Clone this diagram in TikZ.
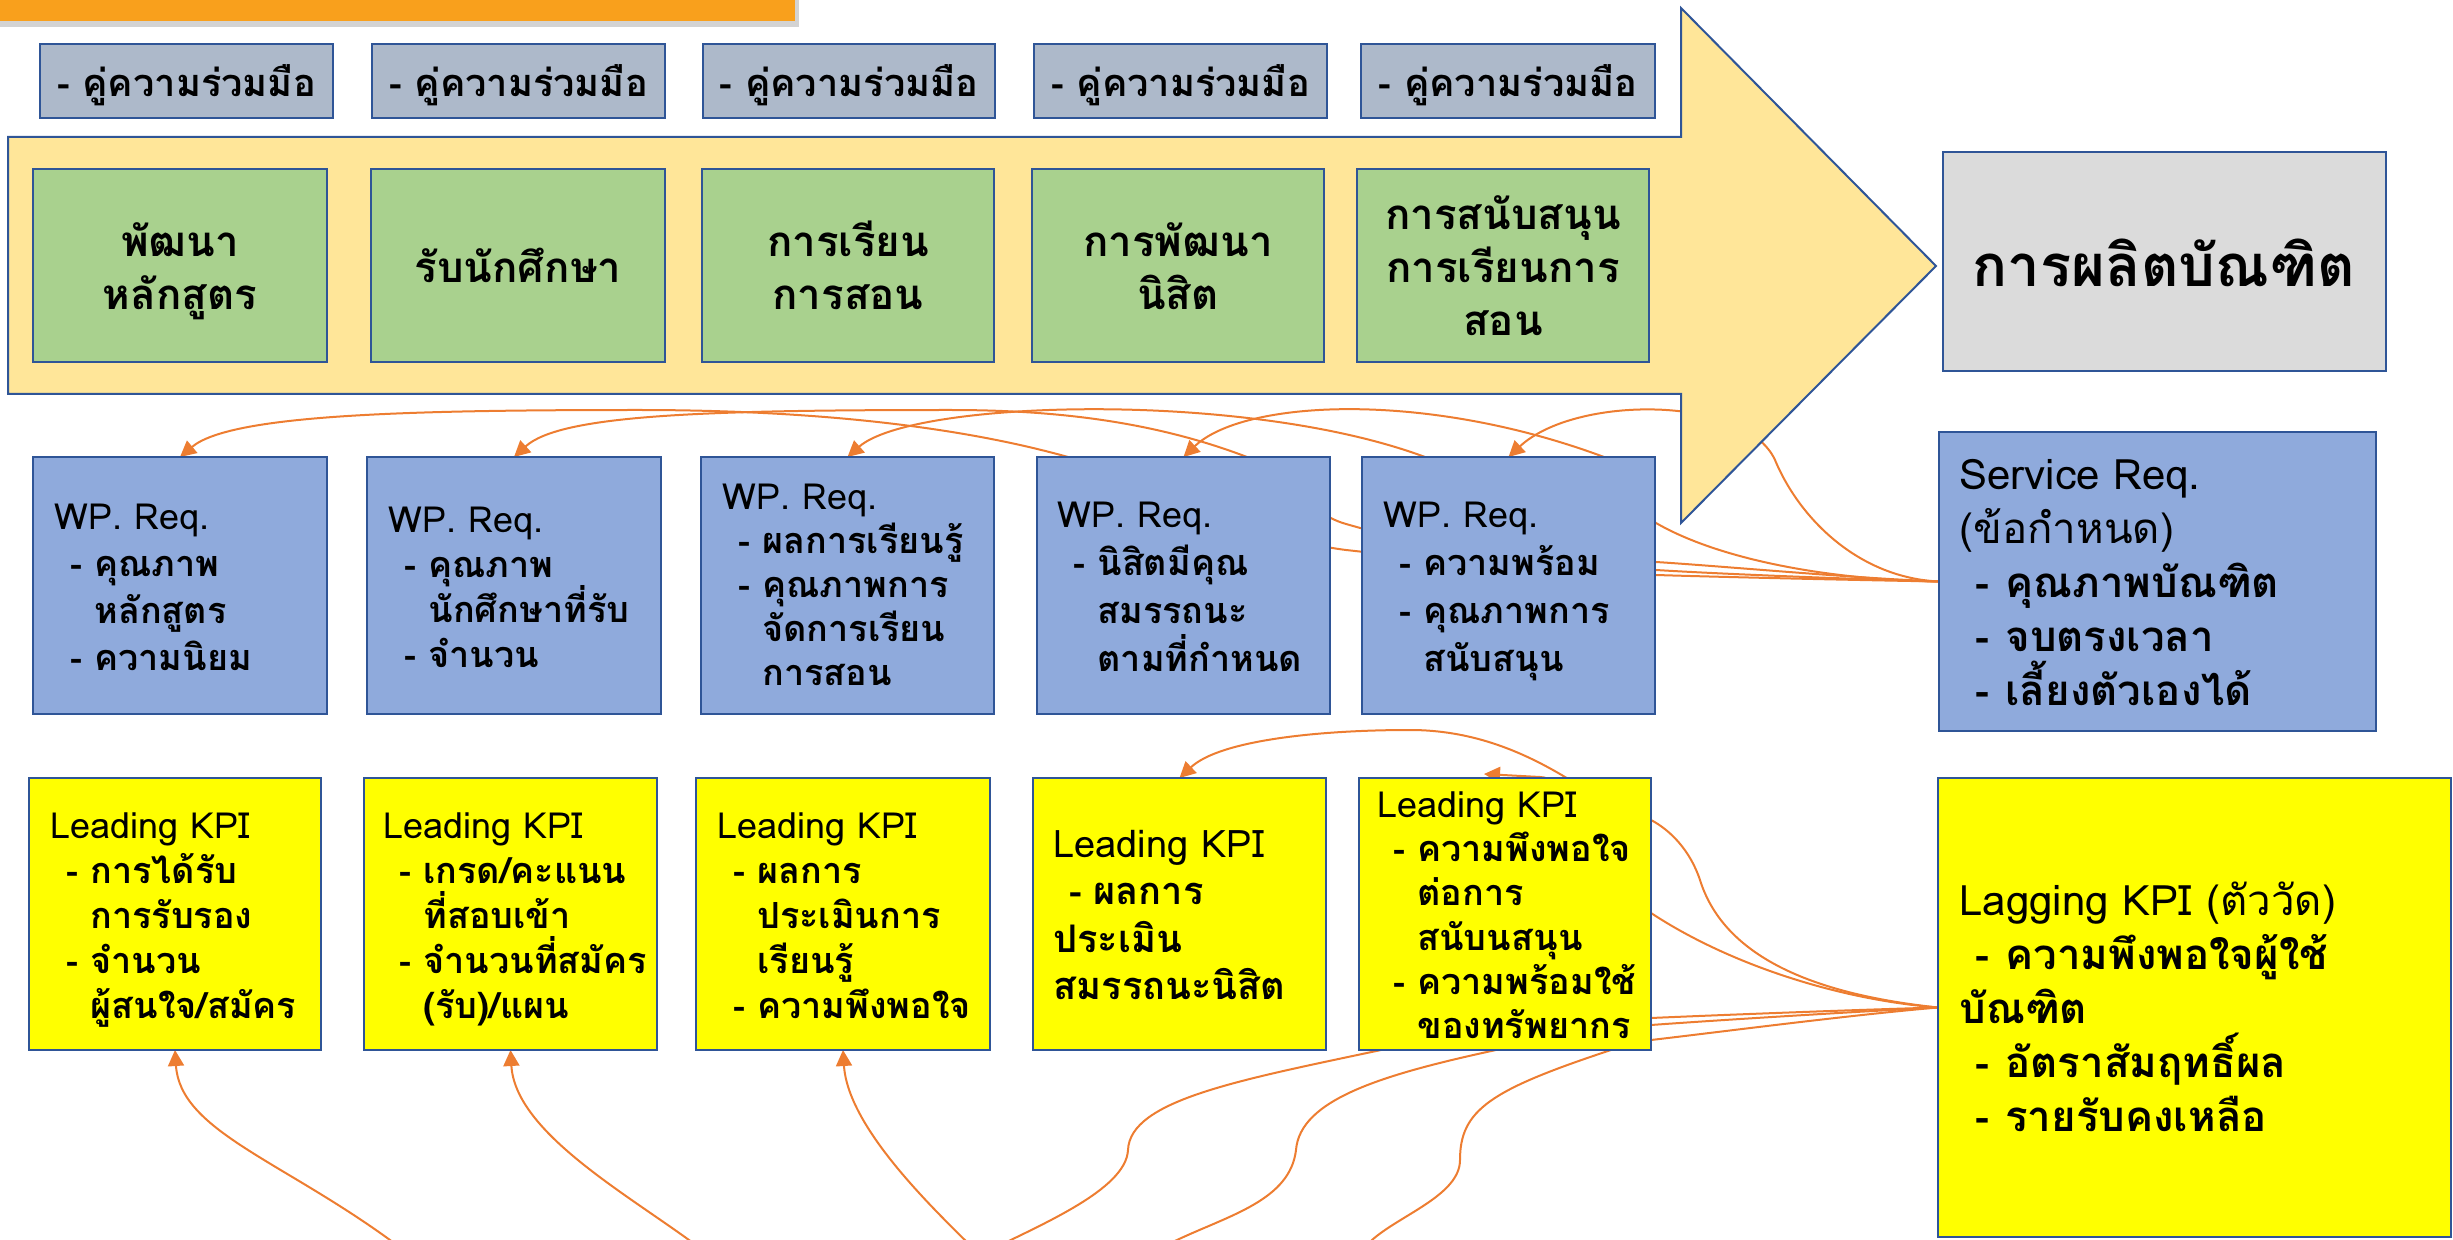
\documentclass[tikz,border=0pt]{standalone}
\usepackage{fontspec}
\newfontfamily\thai[Script=Thai]{Loma}
\usetikzlibrary{arrows.meta,backgrounds,shadows,fit,calc}
\definecolor{orangebar}{RGB}{249,160,28}
\definecolor{bordblue}{RGB}{47,85,151}
\definecolor{partnerfill}{RGB}{173,185,202}
\definecolor{arrowfill}{RGB}{255,230,153}
\definecolor{greenfill}{RGB}{169,209,142}
\definecolor{grayfill}{RGB}{219,219,219}
\definecolor{wpfill}{RGB}{143,170,220}
\definecolor{kpiyellow}{RGB}{255,255,0}
\definecolor{conncol}{RGB}{237,125,49}
\newcommand\tlines[2]{\vtop{\baselineskip=#1\lineskiplimit=-100pt\lineskip=0pt\halign{##\hfil\cr#2\crcr}}}
\newcommand\clines[2]{\vtop{\baselineskip=#1\lineskiplimit=-100pt\lineskip=0pt\halign{\hfil##\hfil\cr#2\crcr}}}
\newcommand\dsh[1]{\bfseries\hspace*{8pt}\makebox[12pt][l]{-}#1}
\newcommand\ind[1]{\bfseries\hspace*{20pt}#1}
\newcommand\dshL[1]{\bfseries\hspace*{8pt}\makebox[15pt][l]{-}#1}
\begin{document}
\begin{tikzpicture}[x=0.5pt,y=-0.5pt,font=\thai,
  boxst/.style={draw=bordblue,line width=1.2pt,inner sep=0pt,outer sep=0pt},
  partner/.style={boxst,fill=partnerfill},
  stage/.style={boxst,fill=greenfill},
  wpbox/.style={boxst,fill=wpfill},
  kpibox/.style={boxst,fill=kpiyellow},
  ptext/.style={anchor=base,inner sep=0pt,font=\thai\bfseries\fontsize{19}{23}\selectfont},
  gtext/.style={anchor=base,inner sep=0pt,font=\thai\bfseries\fontsize{21}{26.5}\selectfont},
  ltext/.style={anchor=base west,inner sep=0pt,font=\thai\fontsize{18}{23}\selectfont},
  bigtext/.style={anchor=base west,inner sep=0pt,font=\thai\fontsize{21}{27}\selectfont},
  conn/.style={draw=conncol,line width=1pt},
  arr/.style={conn,-{Triangle[length=8pt,width=8pt]}}]
\useasboundingbox (0,0) rectangle (2453,1240);
% title bar
\path[fill=orangebar,drop shadow={shadow xshift=2pt,shadow yshift=-3pt,opacity=0.35}] (-20,-20) rectangle (795,21);
% big arrow
\path[fill=arrowfill,draw=bordblue,line width=1pt] (8,137) -- (1681,137) -- (1681,8) -- (1936,266) -- (1681,523) -- (1681,394) -- (8,394) -- cycle;
% partner boxes
\node[partner,fit={(40,44) (333,118)}] (p1) {};
\node[partner,fit={(372,44) (665,118)}] (p2) {};
\node[partner,fit={(703,44) (995,118)}] (p3) {};
\node[partner,fit={(1034,44) (1327,118)}] (p4) {};
\node[partner,fit={(1361,44) (1655,118)}] (p5) {};
\node[ptext] (p1t) at (186.5,97) {- คู่ความร่วมมือ};
\node[ptext] (p2t) at (518.5,97) {- คู่ความร่วมมือ};
\node[ptext] (p3t) at (849,97) {- คู่ความร่วมมือ};
\node[ptext] (p4t) at (1180.5,97) {- คู่ความร่วมมือ};
\node[ptext] (p5t) at (1508,97) {- คู่ความร่วมมือ};
% stage boxes
\node[stage,fit={(33,169) (327,362)}] (g1) {};
\node[stage,fit={(371,169) (665,362)}] (g2) {};
\node[stage,fit={(702,169) (994,362)}] (g3) {};
\node[stage,fit={(1032,169) (1324,362)}] (g4) {};
\node[stage,fit={(1357,169) (1649,362)}] (g5) {};
\node[gtext] (g1t) at (180,257) {\clines{26.5pt}{พัฒนา\cr หลักสูตร}};
\node[gtext] (g2t) at (518,283) {รับนักศึกษา};
\node[gtext] (g3t) at (848,257) {\clines{26.5pt}{การเรียน\cr การสอน}};
\node[gtext] (g4t) at (1178,257) {\clines{26.5pt}{การพัฒนา\cr นิสิต}};
\node[gtext] (g5t) at (1503,230) {\clines{26.5pt}{การสนับสนุน\cr การเรียนการ\cr สอน}};
% result
\node[boxst,fill=grayfill,fit={(1943,152) (2386,371)}] (res) {};
\node[anchor=base,inner sep=0pt,font=\thai\bfseries\fontsize{29}{35}\selectfont] (rest) at (2164,287) {การผลิตบัณฑิต};
% WP requirement boxes
\node[wpbox,fit={(33,457) (327,714)}] (w1) {};
\node[wpbox,fit={(367,457) (661,714)}] (w2) {};
\node[wpbox,fit={(701,457) (994,714)}] (w3) {};
\node[wpbox,fit={(1037,457) (1330,714)}] (w4) {};
\node[wpbox,fit={(1362,457) (1655,714)}] (w5) {};
\node[ltext] (w1t) at (54,530) {\tlines{23.5pt}{WP. Req.\cr\dsh{คุณภาพ}\cr\ind{หลักสูตร}\cr\dsh{ความนิยม}}};
\node[ltext] (w2t) at (388,533) {\tlines{22.5pt}{WP. Req.\cr\dsh{คุณภาพ}\cr\ind{นักศึกษาที่รับ}\cr\dsh{จำนวน}}};
\node[ltext] (w3t) at (722,510) {\tlines{22pt}{WP. Req.\cr\dsh{ผลการเรียนรู้}\cr\dsh{คุณภาพการ}\cr\ind{จัดการเรียน}\cr\ind{การสอน}}};
\node[ltext] (w4t) at (1057,528) {\tlines{24pt}{WP. Req.\cr\dsh{นิสิตมีคุณ}\cr\ind{สมรรถนะ}\cr\ind{ตามที่กำหนด}}};
\node[ltext] (w5t) at (1383,528) {\tlines{24pt}{WP. Req.\cr\dsh{ความพร้อม}\cr\dsh{คุณภาพการ}\cr\ind{สนับสนุน}}};
% service requirement
\node[wpbox,fit={(1939,432) (2376,731)}] (sr) {};
\node[bigtext] (srt) at (1959,490) {\tlines{27pt}{Service Req.\cr (ข้อกำหนด)\cr\dshL{คุณภาพบัณฑิต}\cr\dshL{จบตรงเวลา}\cr\dshL{เลี้ยงตัวเองได้}}};
% leading KPI boxes
\node[kpibox,fit={(29,778) (321,1050)}] (k1) {};
\node[kpibox,fit={(364,778) (657,1050)}] (k2) {};
\node[kpibox,fit={(696,778) (990,1050)}] (k3) {};
\node[kpibox,fit={(1033,778) (1326,1050)}] (k4) {};
\node[kpibox,fit={(1359,778) (1651,1050)}] (k5) {};
\node[ltext] (k1t) at (50,838) {\tlines{22.5pt}{Leading KPI\cr\dsh{การได้รับ}\cr\ind{การรับรอง}\cr\dsh{จำนวน}\cr\ind{ผู้สนใจ/สมัคร}}};
\node[ltext] (k2t) at (383,838) {\tlines{22.5pt}{Leading KPI\cr\dsh{เกรด/คะแนน}\cr\ind{ที่สอบเข้า}\cr\dsh{จำนวนที่สมัคร}\cr\ind{(รับ)/แผน}}};
\node[ltext] (k3t) at (717,838) {\tlines{22.5pt}{Leading KPI\cr\dsh{ผลการ}\cr\ind{ประเมินการ}\cr\ind{เรียนรู้}\cr\dsh{ความพึงพอใจ}}};
\node[ltext,font=\thai\fontsize{19}{24}\selectfont] (k4t) at (1053,857) {\tlines{23.8pt}{Leading KPI\cr\dsh{ผลการ}\cr\bfseries ประเมิน\cr\bfseries สมรรถนะนิสิต}};
\node[ltext] (k5t) at (1377,817) {\tlines{22.2pt}{Leading KPI\cr\dsh{ความพึงพอใจ}\cr\ind{ต่อการ}\cr\ind{สนับนสนุน}\cr\dsh{ความพร้อมใช้}\cr\ind{ของทรัพยากร}}};
% lagging KPI
\node[kpibox,fit={(1938,778) (2451,1237)}] (lg) {};
\node[bigtext] (lgt) at (1959,915) {\tlines{27pt}{Lagging KPI (ตัววัด)\cr\dshL{ความพึงพอใจผู้ใช้}\cr\bfseries บัณฑิต\cr\dshL{อัตราสัมฤทธิ์ผล}\cr\dshL{รายรับคงเหลือ}}};
% connectors (behind the shapes)
\begin{scope}[on background layer]
\draw[arr] (sr.west) .. controls (1850,580) and (1720,577) .. (1656,575) .. controls (1520,572) and (1420,558) .. (1346,550) .. controls (1250,538) and (1150,480) .. (1068,457) .. controls (950,424) and (800,410) .. (638,410) .. controls (400,410) and (230,415) .. (w1.north);
\draw[arr] (sr.west) .. controls (1850,579) and (1720,574) .. (1656,570) .. controls (1500,565) and (1420,545) .. (1346,524) .. controls (1300,511) and (1300,470) .. (1247,457) .. controls (1150,420) and (1050,410) .. (950,410) .. controls (700,410) and (560,415) .. (w2.north);
\draw[arr] (sr.west) .. controls (1850,578) and (1720,566) .. (1656,562) .. controls (1550,555) and (1490,480) .. (1425,457) .. controls (1245,390) and (912,400) .. (w3.north);
\draw[arr] (sr.west) .. controls (1830,580) and (1720,560) .. (1656,523) .. controls (1630,505) and (1635,468) .. (1604,457) .. controls (1424,390) and (1243,400) .. (w4.north);
\draw[arr] (sr.west) .. controls (1860,578) and (1800,520) .. (1775,460) .. controls (1745,395) and (1575,395) .. (w5.north);
\draw[arr] (lg.west) .. controls (1820,995) and (1725,960) .. (1700,880) .. controls (1690,850) and (1670,830) .. (1651,820) .. controls (1600,790) and (1590,790) .. (1565,777) .. controls (1520,750) and (1470,730) .. (1410,730) .. controls (1320,730) and (1220,740) .. (k4.north);
\draw[arr] (lg.west) .. controls (1840,1000) and (1730,965) .. (1651,913) .. controls (1590,870) and (1580,779) .. (1540,777) -- ($(k5.north)+(-21,-4)$);
\draw[arr] (lg.west) .. controls (1850,1010) and (1720,1015) .. (1651,1018) .. controls (1500,1025) and (1420,1040) .. (1381,1050) .. controls (1240,1080) and (1130,1100) .. (1128,1150) .. controls (1126,1190) and (1040,1225) .. (980,1255) .. controls (940,1215) and (848,1130) .. (k3.south);
\draw[arr] (lg.west) .. controls (1850,1012) and (1720,1020) .. (1651,1025) .. controls (1580,1030) and (1530,1040) .. (1496,1050) .. controls (1380,1075) and (1300,1100) .. (1296,1150) .. controls (1290,1200) and (1230,1215) .. (1177,1240) .. controls (1000,1320) and (800,1320) .. (689,1240) .. controls (620,1190) and (515,1130) .. (k2.south);
\draw[arr] (lg.west) .. controls (1850,1015) and (1720,1032) .. (1651,1040) .. controls (1635,1042) and (1620,1046) .. (1611,1050) .. controls (1490,1090) and (1460,1110) .. (1460,1160) .. controls (1460,1195) and (1400,1215) .. (1372,1240) .. controls (1150,1440) and (600,1400) .. (390,1240) .. controls (280,1160) and (180,1130) .. (k1.south);
\end{scope}
\end{tikzpicture}
\end{document}
